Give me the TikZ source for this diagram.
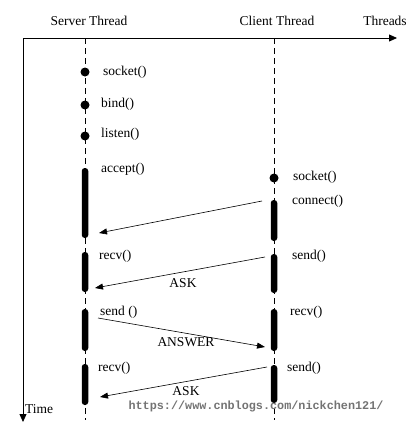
\documentclass[tikz,border=0pt]{standalone}
\usepackage{fontspec}
\setmainfont{Liberation Serif}
\newfontfamily\markfont{Liberation Mono}
\usetikzlibrary{arrows.meta}

\begin{document}
\begin{tikzpicture}[x=1pt, y=-1pt,
    head/.style={font=\fontsize{13.5}{16}\selectfont, inner sep=0pt},
    lbl/.style={font=\fontsize{13.5}{16}\selectfont, inner sep=0pt, anchor=west},
    life/.style={dash pattern=on 6pt off 4pt, line width=0.9pt},
    axis/.style={-{Triangle[length=8pt, width=7pt]}, line width=0.8pt},
    dot/.style={circle, fill=black, inner sep=0pt, minimum size=9pt},
    bar/.style={fill=black, rounded corners=3pt, minimum width=6.5pt, inner sep=0pt, minimum height=#1},
    msg/.style={-{Triangle[length=8pt, width=6pt]}, line width=0.6pt},
]
    \useasboundingbox (0,0) rectangle (411,431);

    % Axes
    \coordinate (origin) at (23,38);
    \coordinate (t-end) at (397,38);
    \coordinate (time-end) at (23,422);
    \draw[axis] (origin) -- (t-end);
    \draw[axis] (origin) -- (time-end);
    \node[head] (threads) at (385,21) {Threads};
    \node[lbl] (time) at (25,409) {Time};

    % Lifelines
    \node[head] (server) at (89,21) {Server Thread};
    \node[head] (client) at (277,21) {Client Thread};
    \coordinate (srv-top) at (85,38);
    \coordinate (srv-end) at (85,420);
    \coordinate (cli-top) at (274,38);
    \coordinate (cli-end) at (274,420);
    \draw[life] (srv-top) -- (srv-end);
    \draw[life] (cli-top) -- (cli-end);

    % Server calls
    \node[dot] (srv-socket) at (85,72) {};
    \node[dot] (srv-bind) at (85,105) {};
    \node[dot] (srv-listen) at (85,136) {};
    \node[bar=70pt] (srv-accept) at (85,203) {};
    \node[bar=40pt] (srv-recv1) at (85,272) {};
    \node[bar=42pt] (srv-send) at (85,330) {};
    \node[bar=41pt] (srv-recv2) at (85,384.5) {};

    \node[lbl] at (103,72) {socket()};
    \node[lbl] at (101,104) {bind()};
    \node[lbl] at (101,134) {listen()};
    \node[lbl] at (101,169) {accept()};
    \node[lbl] at (99,256) {recv()};
    \node[lbl] at (100,312) {send ()};
    \node[lbl] at (98,368) {recv()};

    % Client calls
    \node[dot] (cli-socket) at (274,178) {};
    \node[bar=41pt] (cli-connect) at (274,220.5) {};
    \node[bar=39pt] (cli-send1) at (274,273.5) {};
    \node[bar=42pt] (cli-recv) at (274,330) {};
    \node[bar=38pt] (cli-send2) at (274,384) {};

    \node[lbl] at (293,177) {socket()};
    \node[lbl] at (292,201) {connect()};
    \node[lbl] at (292,256) {send()};
    \node[lbl] at (290,312) {recv()};
    \node[lbl] at (287,368) {send()};

    % Messages
    \coordinate (conn-out) at (262,201);
    \coordinate (conn-in) at (99,233);
    \coordinate (ask1-out) at (265,257);
    \coordinate (ask1-in) at (95,288);
    \coordinate (ans-out) at (98,318);
    \coordinate (ans-in) at (265,347);
    \coordinate (ask2-out) at (267,367);
    \coordinate (ask2-in) at (100,397);
    \draw[msg] (conn-out) -- (conn-in);
    \draw[msg] (ask1-out) -- (ask1-in);
    \draw[msg] (ans-out) -- (ans-in);
    \draw[msg] (ask2-out) -- (ask2-in);
    \node[head] at (183,283) {ASK};
    \node[head] at (186,342) {ANSWER};
    \node[head] at (186,391.5) {ASK};

    % Watermark
    \node[inner sep=0pt, text=black!55, font=\markfont\bfseries\fontsize{11.8}{14}\selectfont] (mark) at (256,406) {https://www.cnblogs.com/nickchen121/};
\end{tikzpicture}
\end{document}
